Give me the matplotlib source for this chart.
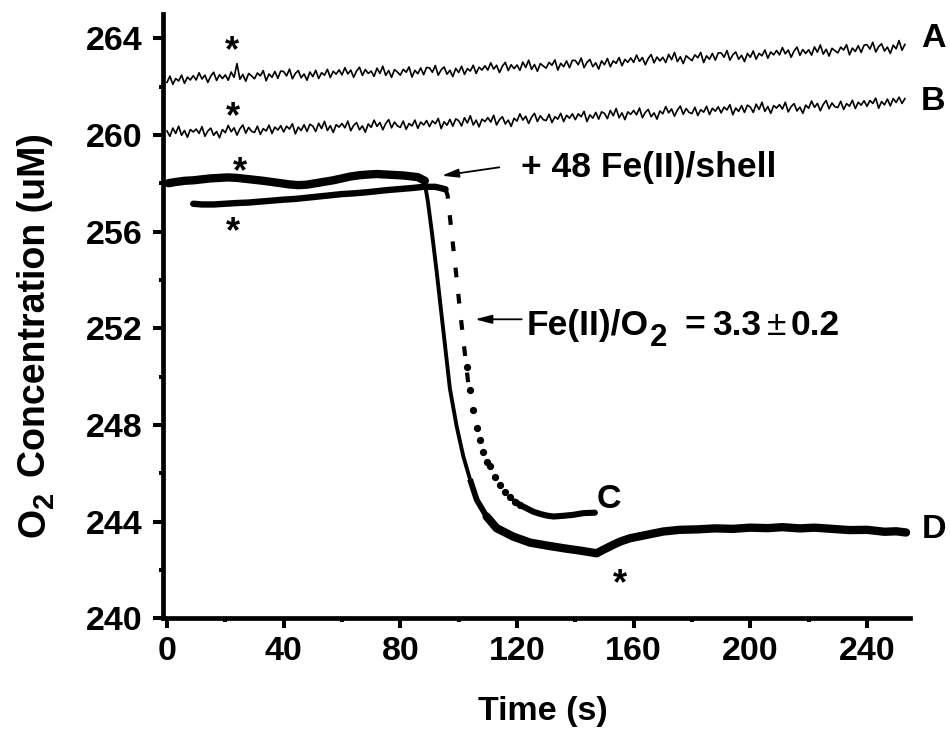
import numpy as np
import matplotlib
matplotlib.use("Agg")
import matplotlib.pyplot as plt
from matplotlib.ticker import MultipleLocator

plt.rcParams['font.family'] = ['Liberation Sans', 'DejaVu Sans']
plt.rcParams['font.weight'] = 'bold'
plt.rcParams['lines.scale_dashes'] = False

# ---------------- data ----------------
time_ab = np.arange(254)  # seconds, 1 s sampling

trace_a = [
    262.17, 262.43, 262.09, 262.33, 262.23, 262.47, 262.13, 262.39, 262.27, 262.45,
    262.27, 262.57, 262.31, 262.47, 262.17, 262.43, 262.59, 262.25, 262.49, 262.33,
    262.48, 262.26, 262.60, 262.38, 262.95, 262.30, 262.50, 262.22, 262.54, 262.44,
    262.32, 262.56, 262.44, 262.66, 262.24, 262.52, 262.38, 262.62, 262.34, 262.64,
    262.62, 262.44, 262.72, 262.32, 262.54, 262.66, 262.36, 262.52, 262.26, 262.60,
    262.41, 262.67, 262.33, 262.57, 262.47, 262.71, 262.37, 262.63, 262.51, 262.69,
    262.48, 262.78, 262.52, 262.68, 262.38, 262.64, 262.80, 262.46, 262.70, 262.54,
    262.64, 262.42, 262.76, 262.54, 262.84, 262.46, 262.66, 262.38, 262.70, 262.60,
    262.47, 262.71, 262.59, 262.81, 262.39, 262.67, 262.53, 262.77, 262.49, 262.79,
    262.77, 262.59, 262.87, 262.47, 262.69, 262.81, 262.51, 262.67, 262.41, 262.75,
    262.58, 262.84, 262.50, 262.74, 262.64, 262.88, 262.54, 262.80, 262.68, 262.86,
    262.68, 262.98, 262.72, 262.88, 262.58, 262.84, 263.00, 262.66, 262.90, 262.74,
    262.89, 262.67, 263.01, 262.79, 263.09, 262.71, 262.91, 262.63, 262.95, 262.85,
    262.76, 263.00, 262.88, 263.10, 262.68, 262.96, 262.82, 263.06, 262.78, 263.08,
    263.08, 262.90, 263.18, 262.78, 263.00, 263.12, 262.82, 262.98, 262.72, 263.06,
    262.90, 263.16, 262.82, 263.06, 262.96, 263.20, 262.86, 263.12, 263.00, 263.18,
    263.00, 263.30, 263.04, 263.20, 262.90, 263.16, 263.32, 262.98, 263.22, 263.06,
    263.21, 262.99, 263.33, 263.11, 263.41, 263.03, 263.23, 262.95, 263.27, 263.17,
    263.07, 263.31, 263.19, 263.41, 262.99, 263.27, 263.13, 263.37, 263.09, 263.39,
    263.39, 263.21, 263.49, 263.09, 263.31, 263.43, 263.13, 263.29, 263.03, 263.37,
    263.21, 263.47, 263.13, 263.37, 263.27, 263.51, 263.17, 263.43, 263.31, 263.49,
    263.31, 263.61, 263.35, 263.51, 263.21, 263.47, 263.63, 263.29, 263.53, 263.37,
    263.52, 263.30, 263.64, 263.42, 263.72, 263.34, 263.54, 263.26, 263.58, 263.48,
    263.39, 263.63, 263.51, 263.73, 263.31, 263.59, 263.45, 263.69, 263.41, 263.71,
    263.73, 263.55, 263.83, 263.43, 263.65, 263.77, 263.47, 263.63, 263.37, 263.71,
    263.56, 263.90, 263.50, 263.74,
]

trace_b = [
    260.16, 259.94, 260.28, 260.06, 260.36, 259.98, 260.18, 259.90, 260.22, 260.12,
    260.24, 260.06, 260.34, 259.94, 260.16, 260.28, 259.98, 260.14, 259.88, 260.22,
    260.09, 260.39, 260.13, 260.29, 259.99, 260.25, 260.41, 260.07, 260.31, 260.15,
    260.10, 260.36, 260.02, 260.26, 260.16, 260.40, 260.06, 260.32, 260.20, 260.38,
    260.12, 260.36, 260.24, 260.46, 260.04, 260.32, 260.18, 260.42, 260.14, 260.44,
    260.36, 260.14, 260.48, 260.26, 260.56, 260.18, 260.38, 260.10, 260.42, 260.32,
    260.47, 260.29, 260.57, 260.17, 260.39, 260.51, 260.21, 260.37, 260.11, 260.45,
    260.31, 260.61, 260.35, 260.51, 260.21, 260.47, 260.63, 260.29, 260.53, 260.37,
    260.31, 260.57, 260.23, 260.47, 260.37, 260.61, 260.27, 260.53, 260.41, 260.59,
    260.34, 260.58, 260.46, 260.68, 260.26, 260.54, 260.40, 260.64, 260.36, 260.66,
    260.59, 260.37, 260.71, 260.49, 260.79, 260.41, 260.61, 260.33, 260.65, 260.55,
    260.71, 260.53, 260.81, 260.41, 260.63, 260.75, 260.45, 260.61, 260.35, 260.69,
    260.57, 260.87, 260.61, 260.77, 260.47, 260.73, 260.89, 260.55, 260.79, 260.63,
    260.59, 260.85, 260.51, 260.75, 260.65, 260.89, 260.55, 260.81, 260.69, 260.87,
    260.63, 260.87, 260.75, 260.97, 260.55, 260.83, 260.69, 260.93, 260.65, 260.95,
    260.89, 260.67, 261.01, 260.79, 261.09, 260.71, 260.91, 260.63, 260.95, 260.85,
    261.01, 260.83, 261.11, 260.71, 260.93, 261.05, 260.75, 260.91, 260.65, 260.99,
    260.87, 261.17, 260.91, 261.07, 260.77, 261.03, 261.19, 260.85, 261.09, 260.93,
    260.88, 261.14, 260.80, 261.04, 260.94, 261.18, 260.84, 261.10, 260.98, 261.16,
    260.91, 261.15, 261.03, 261.25, 260.83, 261.11, 260.97, 261.21, 260.93, 261.23,
    261.15, 260.93, 261.27, 261.05, 261.35, 260.97, 261.17, 260.89, 261.21, 261.11,
    261.25, 261.07, 261.35, 260.95, 261.17, 261.29, 260.99, 261.15, 260.89, 261.23,
    261.10, 261.40, 261.14, 261.30, 261.00, 261.26, 261.42, 261.08, 261.32, 261.16,
    261.13, 261.39, 261.05, 261.29, 261.19, 261.43, 261.09, 261.35, 261.23, 261.41,
    261.18, 261.42, 261.30, 261.52, 261.10, 261.38, 261.24, 261.48, 261.20, 261.50,
    261.34, 261.56, 261.30, 261.50,
]

# Trace D (Fe(II) added at ~88 s)
d_base_t = [0.5, 3, 6, 9, 12, 15, 18, 21, 24, 27, 30, 33, 36, 39, 42, 45, 48,
            51, 54, 57, 60, 63, 66, 69, 72, 75, 78, 81, 84, 86, 88.4]
d_base_y = [258.00, 258.05, 258.10, 258.12, 258.16, 258.20, 258.22, 258.24,
            258.22, 258.18, 258.14, 258.10, 258.05, 258.00, 257.95, 257.92,
            257.94, 258.00, 258.06, 258.12, 258.20, 258.28, 258.33, 258.36,
            258.38, 258.36, 258.34, 258.32, 258.28, 258.25, 258.10]
d_drop_t = [88.4, 89.5, 91, 92.5, 94, 95.5, 97, 99.3, 101.6, 103.9, 106.2]
d_drop_y = [258.00, 257.20, 255.80, 254.30, 252.70, 251.10, 249.50, 247.95,
            246.70, 245.75, 244.90]
d_mid_t = [103.9, 106.2, 109.6, 113.0]
d_mid_y = [245.75, 244.90, 244.21, 243.73]
d_tail_t = [109.6, 113.0, 118.7, 124.5, 130.2, 135.9, 141.7,
            147.3, 150, 153.0, 155.5, 158.7, 164.4, 170.1, 175.8, 182, 188,
            194, 200, 206, 211, 217, 222, 228, 234, 240, 246, 250, 253.4]
d_tail_y = [244.21, 243.73, 243.38, 243.13, 243.01, 242.90,
            242.80, 242.69, 242.86, 243.04, 243.18, 243.31, 243.45, 243.59,
            243.66, 243.68, 243.72, 243.70, 243.75, 243.73, 243.77, 243.72,
            243.75, 243.70, 243.65, 243.66, 243.58, 243.60, 243.55]

# Trace C (Fe(II) added at ~96 s)
c_base_t = [9, 12, 16, 20, 24, 28, 32, 36, 40, 44, 48, 52, 56, 60, 64, 68, 72,
            76, 80, 84, 88, 92, 95.5]
c_base_y = [257.15, 257.12, 257.12, 257.15, 257.18, 257.20, 257.24, 257.28,
            257.32, 257.35, 257.40, 257.45, 257.50, 257.55, 257.58, 257.62,
            257.67, 257.72, 257.76, 257.80, 257.85, 257.85, 257.75]
c_drop_t = [95.5, 96.2, 97.5, 99, 100.5, 102, 103.5]
c_drop_y = [257.75, 257.50, 256.06, 254.40, 252.70, 251.10, 249.50]
c_dots_t = [102.75, 103.9, 105.0, 106.2, 107.3, 108.4, 109.6, 110.7, 112.5,
            114.2, 115.9, 117.6, 119.3, 121.0]
c_dots_y = [250.41, 249.45, 248.62, 247.86, 247.38, 246.90, 246.48, 246.28,
            245.86, 245.52, 245.24, 245.03, 244.83, 244.69]
c_tail_t = [119.3, 121.0, 123.3, 125.6, 127.9, 130.2, 132.5, 135.9, 139.3,
            142.7, 146.7]
c_tail_y = [244.83, 244.69, 244.55, 244.41, 244.32, 244.25, 244.21, 244.24,
            244.28, 244.35, 244.37]

x_major = [0, 40, 80, 120, 160, 200, 240]
y_major = [240, 244, 248, 252, 256, 260, 264]

# ---------------- figure ----------------
W, H = 950, 736
fig = plt.figure(figsize=(W / 100, H / 100), dpi=100)
ax = fig.add_axes([162.5 / W, 117.7 / H, 747.5 / W, 604.3 / H])


def P(x, y):
    """pixel (from top-left) -> figure fraction"""
    return x / W, 1 - y / H


k = 'black'
ax.plot(time_ab, trace_a, color=k, lw=1.2)
ax.plot(time_ab, trace_b, color=k, lw=1.2)

ax.plot(d_base_t, d_base_y, color=k, lw=6.0, solid_capstyle='round',
        solid_joinstyle='round')
ax.plot(d_drop_t, d_drop_y, color=k, lw=2.8, solid_capstyle='round')
ax.plot(d_mid_t, d_mid_y, color=k, lw=4.2, solid_capstyle='butt',
        solid_joinstyle='round')
ax.plot(d_tail_t, d_tail_y, color=k, lw=6.0, solid_capstyle='round',
        solid_joinstyle='round')

ax.plot(c_base_t, c_base_y, color=k, lw=4.6, solid_capstyle='round',
        solid_joinstyle='round')
ax.plot(c_drop_t, c_drop_y, color=k, lw=3.0, dashes=[7, 12],
        dash_capstyle='butt')
ax.plot(c_dots_t, c_dots_y, linestyle='none', marker='o', ms=4.2, color=k)
ax.plot(c_tail_t, c_tail_y, color=k, lw=4.4, solid_capstyle='round',
        solid_joinstyle='round')

ax.set_xlim(-1.54, 254.75)
ax.set_ylim(240, 265)
ax.set_xticks(x_major)
ax.set_yticks(y_major)
ax.xaxis.set_minor_locator(MultipleLocator(20))
ax.yaxis.set_minor_locator(MultipleLocator(2))
for s in ['top', 'right']:
    ax.spines[s].set_visible(False)
for s in ['left', 'bottom']:
    ax.spines[s].set_linewidth(3.4)
ax.tick_params(which='major', direction='out', length=7.5, width=2.9,
               labelsize=24.5, pad=5)
ax.tick_params(which='minor', direction='out', length=3.0, width=2.9)
ax.tick_params(axis='y', which='major', pad=7)
for lab in ax.get_xticklabels() + ax.get_yticklabels():
    lab.set_fontweight('bold')

fs = 24.5
tk = dict(transform=fig.transFigure, fontweight='bold', color=k)

# axis titles
fig.text(*P(478, 720), 'Time (s)', fontsize=fs, ha='left', va='baseline', **tk)
rot = dict(rotation=90, rotation_mode='anchor', ha='left', va='baseline')
fig.text(*P(45, 537), 'O', fontsize=27, **rot, **tk)
fig.text(*P(53, 508), '2', fontsize=21, **rot, **tk)
fig.text(*P(45, 477), 'Concentration (uM)', fontsize=27, **rot, **tk)

# curve labels
for s, x, y in [('A', 921, 47), ('B', 921, 110), ('C', 597, 508), ('D', 922, 538)]:
    fig.text(*P(x, y), s, fontsize=fs, ha='left', va='baseline', **tk)

# asterisks
for x, y in [(231.5, 61), (233, 127.5), (239.7, 182), (233, 242), (619.7, 594)]:
    fig.text(*P(x, y), '*', fontsize=26, ha='center', va='baseline', **tk)

# annotations
fs2 = 25.5
fig.text(*P(521, 177), '+ 48 Fe(II)/shell', fontsize=fs2, ha='left',
         va='baseline', **tk)
fig.text(*P(527, 335), 'Fe(II)/O', fontsize=fs2, ha='left', va='baseline', **tk)
fig.text(*P(650, 346), '2', fontsize=22.5, ha='left', va='baseline', **tk)
fig.text(*P(684, 335), '=', fontsize=fs2, ha='left', va='baseline', **tk)
fig.text(*P(712, 335), '3.3', fontsize=fs2, ha='left', va='baseline', **tk)
fig.text(*P(767, 335), '\u00b1', fontsize=fs2, ha='left', va='baseline',
         transform=fig.transFigure, fontweight='normal', color=k)
fig.text(*P(791, 335), '0.2', fontsize=fs2, ha='left', va='baseline', **tk)

arrow = dict(arrowstyle='-|>,head_length=10,head_width=2.6', color=k, lw=1.3,
             shrinkA=0, shrinkB=0, mutation_scale=1)
ax.annotate('', xy=P(441.7, 175.7), xycoords='figure fraction',
            xytext=P(499.3, 167.3), textcoords='figure fraction',
            arrowprops=arrow)
ax.annotate('', xy=P(475, 319.3), xycoords='figure fraction',
            xytext=P(521.7, 319.3), textcoords='figure fraction',
            arrowprops=arrow)

fig.savefig('out.png', dpi=100)
